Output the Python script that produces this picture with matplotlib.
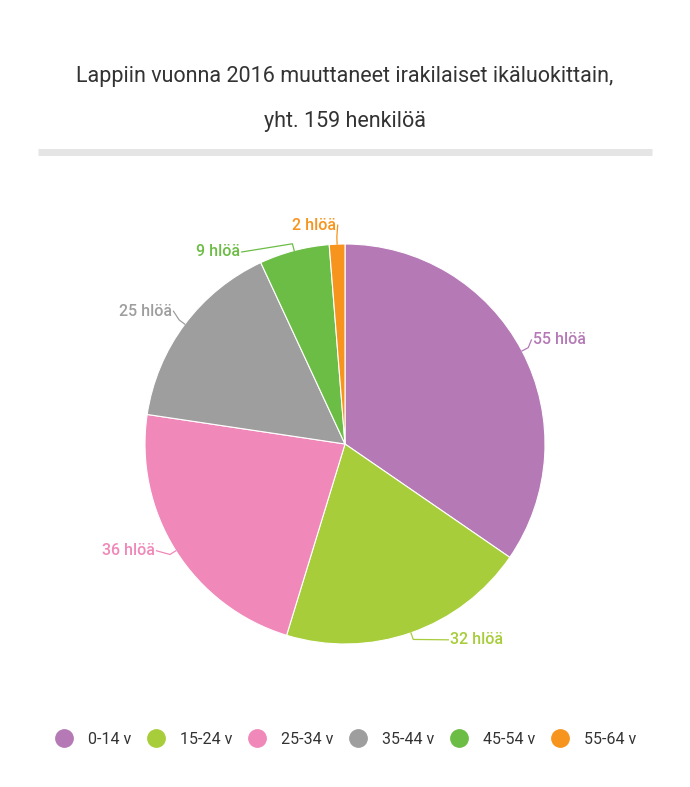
import numpy as np
import matplotlib.pyplot as plt
from matplotlib.lines import Line2D

plt.rcParams['font.family'] = ['Roboto', 'DejaVu Sans']

title = "Lappiin vuonna 2016 muuttaneet irakilaiset ikäluokittain,\n\nyht. 159 henkilöä"
groups = ['0-14 v', '15-24 v', '25-34 v', '35-44 v', '45-54 v', '55-64 v']
counts = [55, 32, 36, 25, 9, 2]
colors = ['#b57ab6', '#a7cd3a', '#f088b9', '#9e9e9e', '#6cbd45', '#f7941d']

# label offsets from the wedge edge (axes units) to keep labels apart
label_nudge = [(0.055, 0.055), (0.195, -0.035), (-0.105, 0.0),
               (-0.065, 0.065), (-0.27, -0.007), (-0.005, 0.095)]

fig = plt.figure(figsize=(6.9, 7.87), dpi=100)
fig.text(0.5, 0.874, title, ha='center', va='center', fontsize=15.5, color='#333333',
         linespacing=1.1)
# separator bar under the title
fig.add_artist(Line2D([38 / 690, 652 / 690], [1 - 152 / 787] * 2, color='#e5e5e5', lw=5,
                      solid_capstyle='butt'))

ax = fig.add_axes([145 / 690, 143 / 787, 400 / 690, 400 / 787])
wedges, _ = ax.pie(counts, colors=colors, startangle=90, counterclock=False,
                   wedgeprops=dict(edgecolor='white', linewidth=0.8))
ax.set_xlim(-1, 1)
ax.set_ylim(-1, 1)
ax.set_aspect('equal')

# leader lines + labels
for w, n, c, (dx, dy) in zip(wedges, counts, colors, label_nudge):
    ang = np.deg2rad((w.theta1 + w.theta2) / 2)
    x0, y0 = np.cos(ang), np.sin(ang)
    x1, y1 = 1.035 * x0, 1.035 * y0
    tx, ty = x0 + dx, y0 + dy
    side = 1 if dx >= 0 else -1
    ax.plot([x0, x1, tx - side * 0.008], [y0, y1, ty], color=c, lw=0.9, clip_on=False)
    ax.text(tx, ty, f'{n} hlöä', color=c, fontsize=11.5, fontweight='medium',
            ha='left' if side > 0 else 'right', va='center', clip_on=False)

handles = [Line2D([], [], marker='o', ls='', markersize=12.5, markerfacecolor=c,
                  markeredgecolor=c) for c in colors]
fig.legend(handles, groups, loc='center', bbox_to_anchor=(0.5, 1 - 739 / 787), ncol=6,
           frameon=False, fontsize=11.5, labelcolor='#333333', handletextpad=0.9,
           columnspacing=0.95, handlelength=1.2)

plt.savefig('out.png', dpi=100)
